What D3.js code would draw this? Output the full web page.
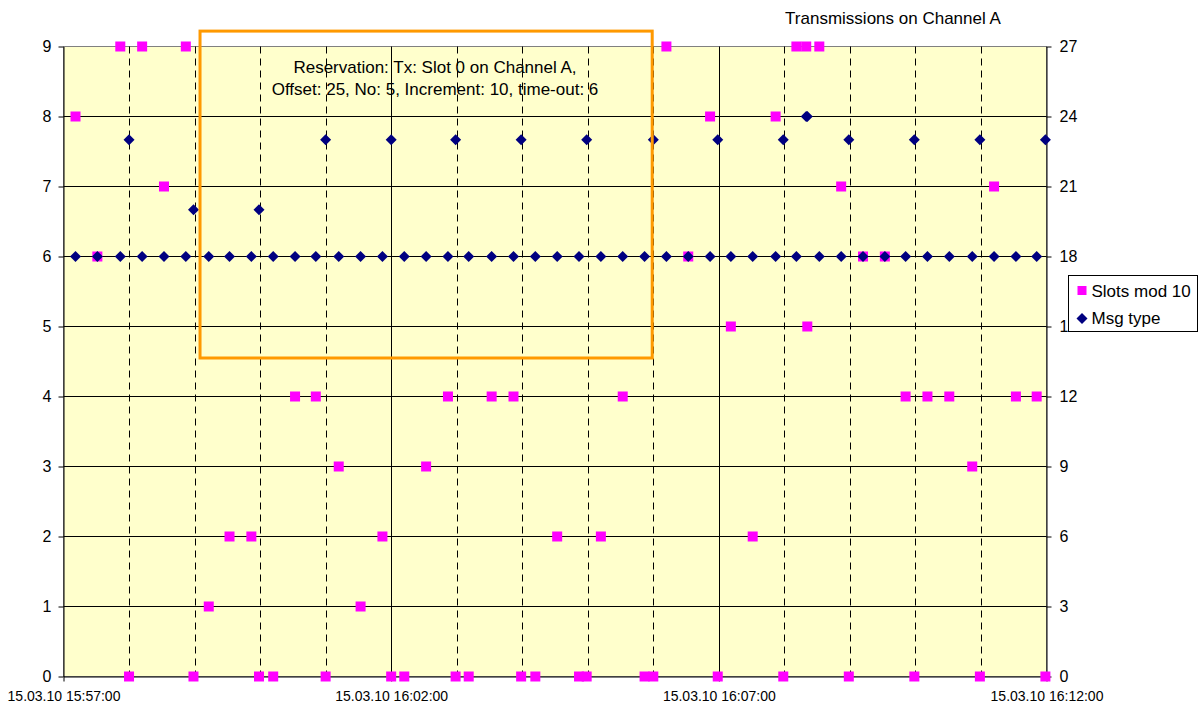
<!DOCTYPE html>
<html>
<head>
<meta charset="utf-8">
<script src="https://cdn.jsdelivr.net/npm/d3@7"></script>
<style>
body { margin: 0; background: #fff; }
text { font-family: Arial, "Liberation Sans", sans-serif; fill: #000; }
</style>
</head>
<body>
<svg id="chart" width="1199" height="706"></svg>
<script>
// transmissions: time, slot number mod 10, AIS message type
var times = ["15:57:11","15:57:31","15:57:52","15:58:00","15:58:12","15:58:32","15:58:52","15:58:59",
             "15:59:13","15:59:32","15:59:52","15:59:59","16:00:12","16:00:32","16:00:51","16:01:00",
             "16:01:12","16:01:32","16:01:52","16:02:00","16:02:12","16:02:32","16:02:52","16:02:59",
             "16:03:11","16:03:32","16:03:52","16:03:59","16:04:12","16:04:32","16:04:52","16:04:59",
             "16:05:12","16:05:32","16:05:52","16:06:00","16:06:12","16:06:32","16:06:52","16:06:59",
             "16:07:11","16:07:31","16:07:52","16:07:59","16:08:11","16:08:20","16:08:21","16:08:32",
             "16:08:52","16:08:59","16:09:12","16:09:32","16:09:51","16:09:59","16:10:11","16:10:31",
             "16:10:52","16:10:59","16:11:12","16:11:32","16:11:51","16:11:59"];
var slots = [8,6,9,0,9,7,9,0,
             1,2,2,0,0,4,4,0,
             3,1,2,0,0,3,4,0,
             0,4,4,0,0,2,0,0,
             2,4,0,0,9,6,8,0,
             5,2,8,0,9,9,5,9,
             7,0,6,6,4,0,4,4,
             3,0,7,4,4,0];
var types = [18,18,18,23,18,18,18,20,
             18,18,18,20,18,18,18,23,
             18,18,18,23,18,18,18,23,
             18,18,18,23,18,18,18,23,
             18,18,18,23,18,18,18,23,
             18,18,18,23,18,24,24,18,
             18,23,18,18,18,23,18,18,
             18,23,18,18,18,23];

var day = "15.03.10";
var xRange = ["15:57:00", "16:12:00"];
var xLabelTicks = ["15:57:00", "16:02:00", "16:07:00", "16:12:00"];
var leftTicks = [0,1,2,3,4,5,6,7,8,9];
var rightTicks = [0,3,6,9,12,15,18,21,24,27];
var seriesNames = ["Slots mod 10", "Msg type"];
var title = "Transmissions on Channel A";
var noteLines = ["Reservation: Tx: Slot 0 on Channel A,",
                 "Offset: 25, No: 5, Increment: 10, time-out: 6"];
var noteBox = {t0: "15:59:05", t1: "16:05:59", top: 9.22, bottom: 4.55};

var parse = d3.timeParse("%d.%m.%y %H:%M:%S");
var T = s => parse(day + " " + s);

var data = times.map((t, i) => ({t: T(t), slot: slots[i], type: types[i]}));

var svg = d3.select("svg#chart");

var x = d3.scaleTime().domain(xRange.map(T)).range([63.5, 1046.5]);
var yL = d3.scaleLinear().domain([0, 9]).range([676.5, 46.5]);
var yR = d3.scaleLinear().domain([0, 27]).range([676.5, 46.5]);

// plot area
svg.append("rect")
    .attr("x", x.range()[0]).attr("y", yL(9))
    .attr("width", x.range()[1] - x.range()[0])
    .attr("height", yL(0) - yL(9))
    .attr("fill", "#ffffcc")
    .attr("stroke", "#808080");

// horizontal grid
svg.append("g").selectAll("line")
    .data(leftTicks.filter(d => d > 0 && d < 9))
    .enter().append("line")
    .attr("x1", x.range()[0]).attr("x2", x.range()[1])
    .attr("y1", d => yL(d)).attr("y2", d => yL(d))
    .attr("stroke", "#000");

// vertical grid: every minute dashed, every 5 minutes solid
var minutes = d3.timeMinute.range(T(xRange[0]), T(xRange[1])).slice(1);
svg.append("g").selectAll("line")
    .data(minutes)
    .enter().append("line")
    .attr("x1", d => Math.round(x(d)) + 0.5).attr("x2", d => Math.round(x(d)) + 0.5)
    .attr("y1", yL(9)).attr("y2", yL(0))
    .attr("stroke", "#000")
    .attr("stroke-dasharray", d => d.getMinutes() % 5 == 2 ? null : "7,5");

// axes
var fmt = d3.timeFormat("%d.%m.%y %H:%M:%S");
var gx = svg.append("g")
    .attr("transform", "translate(0," + yL(0) + ")")
    .call(d3.axisBottom(x).tickValues(xLabelTicks.map(T)).tickFormat(fmt)
            .tickSize(5).tickSizeOuter(0).tickPadding(10));
gx.selectAll("text").style("font-size", "14px");

var gl = svg.append("g")
    .attr("transform", "translate(" + x.range()[0] + ",0)")
    .call(d3.axisLeft(yL).tickValues(leftTicks).tickSize(5).tickSizeOuter(0).tickPadding(7));
gl.selectAll("text").style("font-size", "16px");

var gr = svg.append("g")
    .attr("transform", "translate(" + x.range()[1] + ",0)")
    .call(d3.axisRight(yR).tickValues(rightTicks).tickSize(5).tickSizeOuter(0).tickPadding(8));
gr.selectAll("text").style("font-size", "16px");

svg.selectAll(".domain").attr("stroke", "#000");
svg.selectAll(".tick line").attr("stroke", "#000");

// series
var diamond = "M0,-5.5L5.5,0L0,5.5L-5.5,0Z";

svg.append("g").selectAll("rect")
    .data(data)
    .enter().append("rect")
    .attr("x", d => x(d.t) - 5)
    .attr("y", d => yL(d.slot) - 5)
    .attr("width", 10).attr("height", 10)
    .attr("fill", "#ff00ff");

svg.append("g").selectAll("path")
    .data(data)
    .enter().append("path")
    .attr("d", diamond)
    .attr("transform", d => "translate(" + x(d.t) + "," + yR(d.type) + ")")
    .attr("fill", "#000080");

// annotation
svg.append("rect")
    .attr("x", x(T(noteBox.t0))).attr("y", yL(noteBox.top))
    .attr("width", x(T(noteBox.t1)) - x(T(noteBox.t0)))
    .attr("height", yL(noteBox.bottom) - yL(noteBox.top))
    .attr("fill", "none")
    .attr("stroke", "#ff9900")
    .attr("stroke-width", 3);

svg.append("g").selectAll("text")
    .data(noteLines)
    .enter().append("text")
    .attr("x", 435).attr("y", (d, i) => 73 + i * 22)
    .attr("text-anchor", "middle")
    .style("font-size", "17px")
    .text(d => d);

svg.append("text")
    .attr("x", 893).attr("y", 24)
    .attr("text-anchor", "middle")
    .style("font-size", "17px")
    .text(title);

// legend
var lg = svg.append("g").attr("transform", "translate(1068.5,275.5)");
lg.append("rect")
    .attr("width", 129).attr("height", 56)
    .attr("fill", "#fff").attr("stroke", "#000");
lg.append("rect").attr("x", 9).attr("y", 10.5).attr("width", 9).attr("height", 9).attr("fill", "#ff00ff");
lg.append("path").attr("d", diamond).attr("transform", "translate(13.5,43)").attr("fill", "#000080");
lg.selectAll("text.lbl")
    .data(seriesNames)
    .enter().append("text")
    .attr("class", "lbl")
    .attr("x", 23).attr("y", (d, i) => 21 + i * 27)
    .style("font-size", "17px")
    .text(d => d);
</script>
</body>
</html>
